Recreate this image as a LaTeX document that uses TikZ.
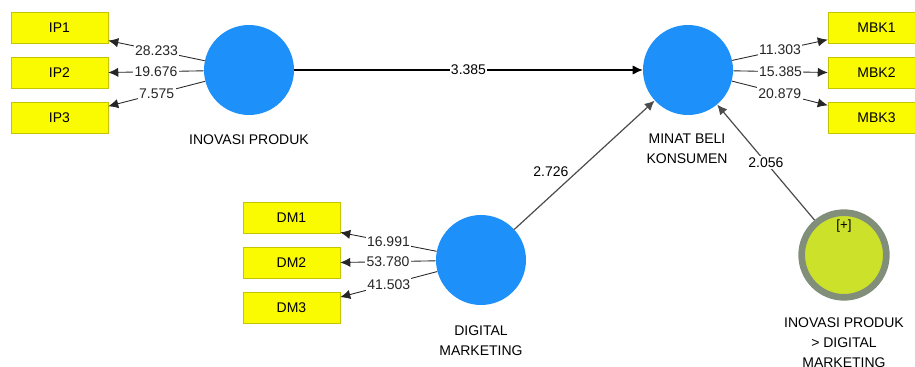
\documentclass[tikz,border=0pt]{standalone}
\usepackage{fontspec}
\setmainfont{Liberation Sans}
\usepackage{tikz}
\usetikzlibrary{arrows.meta}

\definecolor{lvblue}{RGB}{30,144,250}
\definecolor{indfill}{RGB}{250,250,0}
\definecolor{indedge}{RGB}{196,196,0}
\definecolor{modfill}{RGB}{204,226,42}
\definecolor{modring}{RGB}{128,142,122}

\begin{document}
\begin{tikzpicture}[x=0.75pt,y=-0.75pt,>={Latex[length=7.5pt,width=7pt]},
  font=\fontsize{10.5}{15}\selectfont,
  latent/.style={circle,fill=lvblue,minimum size=67.5pt,inner sep=0pt},
  indicator/.style={rectangle,fill=indfill,draw=indedge,minimum width=72.75pt,minimum height=23.25pt,inner sep=0pt},
  coef/.style={fill=white,inner sep=1pt},
  lvname/.style={align=center,anchor=north,inner sep=0pt},
  inner/.style={->,line width=0.9pt},
  load/.style={->,line width=0.65pt,black!85}]
  \clip (0,0) rectangle (915,367);

  % latent variables
  \node[latent] (ip) at (249,70) {};
  \node[latent] (mp) at (688,70) {};
  \node[latent] (dm) at (481,260) {};
  \node[latent,fill=modfill,draw=modring,line width=5pt,minimum size=63.5pt] (mod) at (844,255) {};
  \node[font=\fontsize{10}{12}\selectfont] (modtag) at (844,226) {[+]};

  \node[lvname] (iplab) at (249,134) {INOVASI PRODUK};
  \node[lvname] (mplab) at (687,134) {MINAT BELI\\KONSUMEN};
  \node[lvname] (dmlab) at (481,325) {DIGITAL\\MARKETING};
  \node[lvname] (modlab) at (844,317) {INOVASI PRODUK\\> DIGITAL\\MARKETING};

  % indicators
  \foreach \i/\y in {1/27.5,2/72.5,3/117.5}{
    \node[indicator] (ip\i) at (59.5,\y) {IP\i};
    \node[indicator] (mbk\i) at (876.5,\y) {MBK\i};
  }
  \foreach \i/\y in {1/217.5,2/262.5,3/307.5}
    \node[indicator] (dm\i) at (291.5,\y) {DM\i};

  % outer loadings
  \draw[load] (ip) -- (ip1.-15) node[coef,midway] {28.233};
  \draw[load] (ip) -- (ip2.east) node[coef,midway] {19.676};
  \draw[load] (ip) -- (ip3.13) node[coef,midway] {7.575};
  \draw[load] (mp) -- (mbk1.194) node[coef,midway] {11.303};
  \draw[load] (mp) -- (mbk2.west) node[coef,midway] {15.385};
  \draw[load] (mp) -- (mbk3.166) node[coef,midway] {20.879};
  \draw[load] (dm) -- (dm1.-17) node[coef,midway] {16.991};
  \draw[load] (dm) -- (dm2.east) node[coef,midway] {53.780};
  \draw[load] (dm) -- (dm3.12) node[coef,midway] {41.503};

  % inner model
  \draw[inner] (ip) -- (mp) node[coef,midway] {3.385};
  \draw[inner,black!70] (dm) -- (mp) node[pos=0.45,left=3pt,text=black] {2.726};
  \draw[inner,black!70] (mod) -- (mp) node[coef,midway,text=black] {2.056};
\end{tikzpicture}
\end{document}
